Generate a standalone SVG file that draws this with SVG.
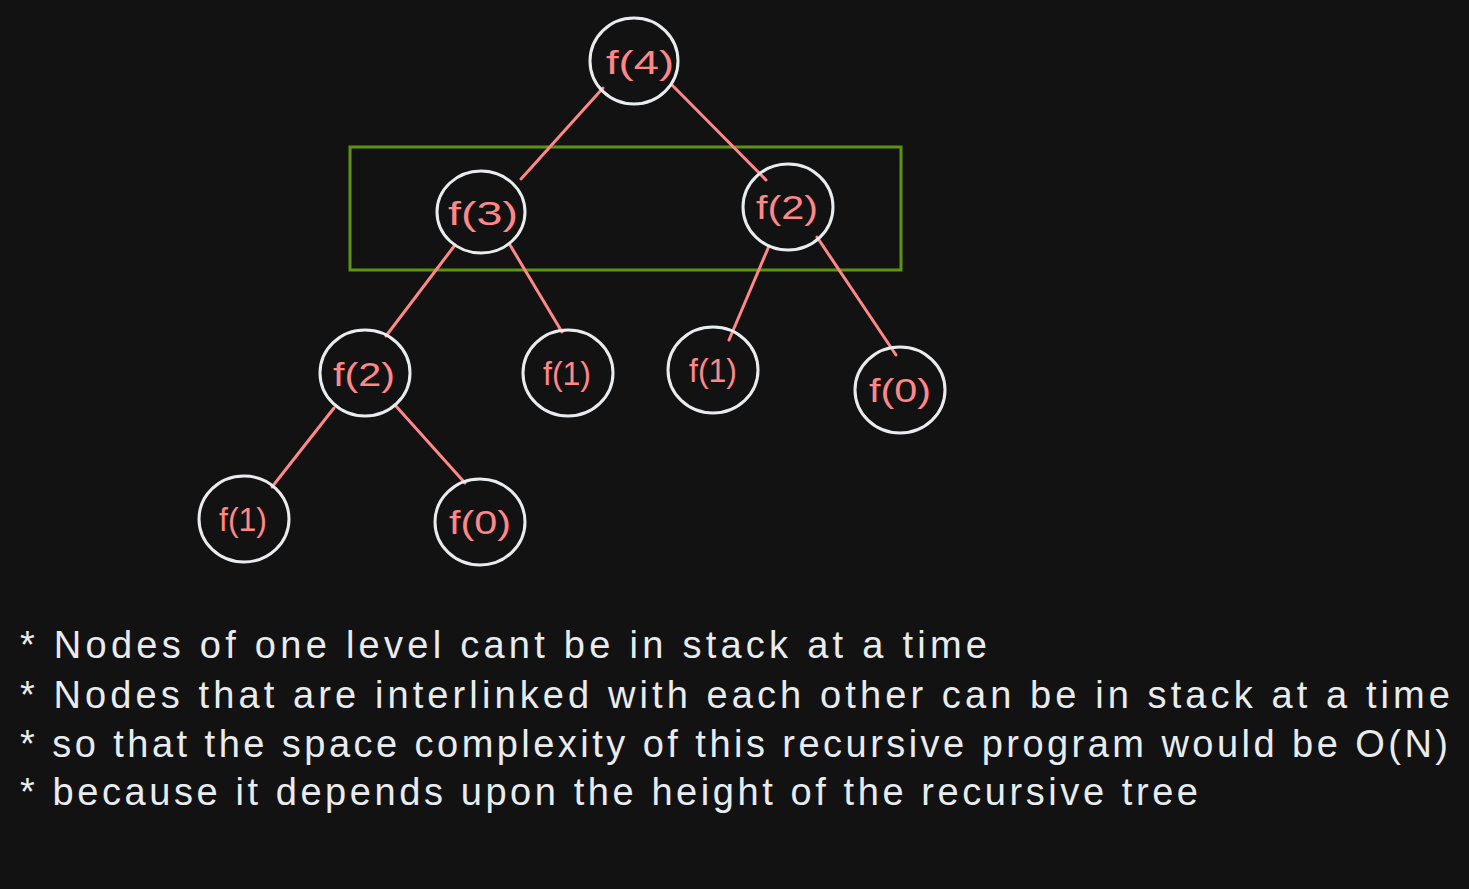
<svg xmlns="http://www.w3.org/2000/svg" width="1469" height="889" viewBox="0 0 1469 889">
<style>
.node ellipse{fill:none;stroke:#e9ecef;stroke-width:3}
.node text{fill:#ff8787;font-family:"Liberation Sans",sans-serif;font-size:33px;text-anchor:middle;dominant-baseline:central}
#connectors line{stroke:#ff8787;stroke-width:3;stroke-linecap:round}
.note{fill:#e9ecef;font-family:"Liberation Sans",sans-serif;font-size:38px}
</style>
<rect width="1469" height="889" fill="#121212"/>
<rect id="level-box" x="350" y="147" width="551" height="123" fill="none" stroke="#5c940d" stroke-width="3"/>
<g id="connectors">
<line x1="603" y1="88" x2="521" y2="179"/>
<line x1="672" y1="85" x2="766" y2="180"/>
<line x1="455" y1="245" x2="386" y2="336"/>
<line x1="510" y1="245" x2="562" y2="332"/>
<line x1="769" y1="246" x2="729" y2="340"/>
<line x1="817" y1="237" x2="896" y2="355"/>
<line x1="334" y1="408" x2="272" y2="487"/>
<line x1="395" y1="405" x2="465" y2="483"/>
</g>
<g id="n-f4" class="node"><ellipse cx="634" cy="61" rx="44" ry="43"/><text x="640" y="62" textLength="68" lengthAdjust="spacingAndGlyphs">f(4)</text></g>
<g id="n-f3" class="node"><ellipse cx="481" cy="212" rx="44" ry="41"/><text x="483" y="213" textLength="70" lengthAdjust="spacingAndGlyphs">f(3)</text></g>
<g id="n-f2a" class="node"><ellipse cx="788" cy="207" rx="45" ry="43"/><text x="787" y="207" textLength="62" lengthAdjust="spacingAndGlyphs">f(2)</text></g>
<g id="n-f2b" class="node"><ellipse cx="365" cy="373" rx="45" ry="43"/><text x="364" y="374" textLength="62" lengthAdjust="spacingAndGlyphs">f(2)</text></g>
<g id="n-f1a" class="node"><ellipse cx="568" cy="373" rx="45" ry="43"/><text x="567" y="373" textLength="48" lengthAdjust="spacingAndGlyphs">f(1)</text></g>
<g id="n-f1b" class="node"><ellipse cx="713" cy="370" rx="45" ry="43"/><text x="713" y="370" textLength="48" lengthAdjust="spacingAndGlyphs">f(1)</text></g>
<g id="n-f0a" class="node"><ellipse cx="900" cy="390" rx="45" ry="43"/><text x="900" y="390" textLength="62" lengthAdjust="spacingAndGlyphs">f(0)</text></g>
<g id="n-f1c" class="node"><ellipse cx="244" cy="519" rx="45" ry="43"/><text x="243" y="519" textLength="48" lengthAdjust="spacingAndGlyphs">f(1)</text></g>
<g id="n-f0b" class="node"><ellipse cx="480" cy="522" rx="45" ry="43"/><text x="480" y="522" textLength="62" lengthAdjust="spacingAndGlyphs">f(0)</text></g>
<g id="notes">
<text class="note" x="20" y="658" textLength="967" lengthAdjust="spacing">* Nodes of one level cant be in stack at a time</text>
<text class="note" x="20" y="708" textLength="1430" lengthAdjust="spacing">* Nodes that are interlinked with each other can be in stack at a time</text>
<text class="note" x="20" y="757" textLength="1428" lengthAdjust="spacing">* so that the space complexity of this recursive program would be O(N)</text>
<text class="note" x="20" y="805" textLength="1178" lengthAdjust="spacing">* because it depends upon the height of the recursive tree</text>
</g>
</svg>
